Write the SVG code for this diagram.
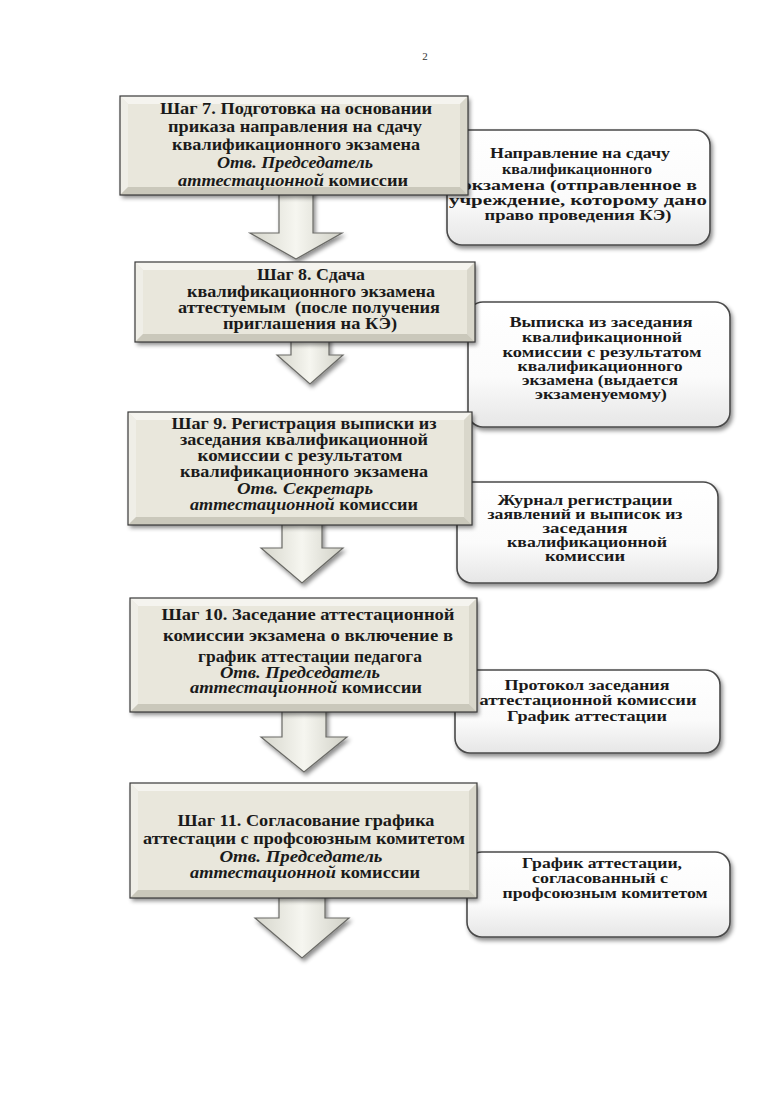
<svg xmlns="http://www.w3.org/2000/svg" width="772" height="1093" viewBox="0 0 772 1093">
<defs>
<filter id="sh" x="-10%" y="-10%" width="125%" height="130%">
<feDropShadow dx="2" dy="3" stdDeviation="2" flood-color="#000" flood-opacity="0.45"/>
</filter>
<linearGradient id="rg" x1="0" y1="0" x2="0" y2="1">
<stop offset="0" stop-color="#ffffff"/>
<stop offset="0.6" stop-color="#fbfbfb"/>
<stop offset="1" stop-color="#e6e6e6"/>
</linearGradient>
<linearGradient id="ag" x1="0" y1="0" x2="1" y2="0">
<stop offset="0" stop-color="#d6d6cc"/>
<stop offset="0.5" stop-color="#f6f6f0"/>
<stop offset="1" stop-color="#d0d0c6"/>
</linearGradient>
<style>
.t{font-family:"Liberation Serif","Times New Roman",serif;font-weight:bold;fill:#1a1a1a;text-anchor:middle}
.L{font-size:16px}
.R{font-size:14.5px}
.i{font-style:italic}
.face{fill:#e9e7dc}
.bt{fill:#f5f4ef}
.bl{fill:#efeee7}
.br{fill:#d9d7cb}
.bb{fill:#cac8bb}
.out{fill:none;stroke:#3a3a3a;stroke-width:1.2}
.rbox{fill:url(#rg);stroke:#4a4a4a;stroke-width:1.6}
.arr{fill:url(#ag);stroke:#6a6a66;stroke-width:1.2}
</style>
</defs>
<rect width="772" height="1093" fill="#ffffff"/>
<text x="425" y="60" font-family="Liberation Serif, serif" font-size="11" text-anchor="middle" fill="#333">2</text>

<g id="r1" filter="url(#sh)"><rect class="rbox" x="447" y="130" width="263" height="115" rx="15"/></g>
<g id="r2" filter="url(#sh)"><rect class="rbox" x="468" y="302" width="262" height="125" rx="15"/></g>
<g id="r3" filter="url(#sh)"><rect class="rbox" x="457" y="482" width="261" height="101" rx="15"/></g>
<g id="r4" filter="url(#sh)"><rect class="rbox" x="455" y="670" width="265" height="83" rx="15"/></g>
<g id="r5" filter="url(#sh)"><rect class="rbox" x="467" y="852" width="263" height="85" rx="15"/></g>

<g id="r1t" class="t R">
<text x="580" y="158" textLength="180" lengthAdjust="spacingAndGlyphs">Направление на сдачу</text>
<text x="577" y="174" textLength="150" lengthAdjust="spacingAndGlyphs">квалификационного</text>
<text x="580" y="190" textLength="234" lengthAdjust="spacingAndGlyphs">экзамена (отправленное в</text>
<text x="578" y="205" textLength="258" lengthAdjust="spacingAndGlyphs">учреждение, которому дано</text>
<text x="578" y="220" textLength="187" lengthAdjust="spacingAndGlyphs">право проведения КЭ)</text>
</g>
<g id="r2t" class="t R">
<text x="601" y="327" textLength="183" lengthAdjust="spacingAndGlyphs">Выписка из заседания</text>
<text x="602" y="342" textLength="160" lengthAdjust="spacingAndGlyphs">квалификационной</text>
<text x="602" y="357" textLength="199" lengthAdjust="spacingAndGlyphs">комиссии с результатом</text>
<text x="600" y="371" textLength="165" lengthAdjust="spacingAndGlyphs">квалификационного</text>
<text x="600" y="385" textLength="156" lengthAdjust="spacingAndGlyphs">экзамена (выдается</text>
<text x="601" y="399" textLength="132" lengthAdjust="spacingAndGlyphs">экзаменуемому)</text>
</g>
<g id="r3t" class="t R">
<text x="585" y="505" textLength="175" lengthAdjust="spacingAndGlyphs">Журнал регистрации</text>
<text x="585" y="519" textLength="195" lengthAdjust="spacingAndGlyphs">заявлений и выписок из</text>
<text x="585" y="533" textLength="85" lengthAdjust="spacingAndGlyphs">заседания</text>
<text x="587" y="547" textLength="160" lengthAdjust="spacingAndGlyphs">квалификационной</text>
<text x="585" y="561" textLength="80" lengthAdjust="spacingAndGlyphs">комиссии</text>
</g>
<g id="r4t" class="t R">
<text x="587" y="690" textLength="165" lengthAdjust="spacingAndGlyphs">Протокол заседания</text>
<text x="588" y="705" textLength="217" lengthAdjust="spacingAndGlyphs">аттестационной комиссии</text>
<text x="587" y="721" textLength="160" lengthAdjust="spacingAndGlyphs">График аттестации</text>
</g>
<g id="r5t" class="t R">
<text x="602" y="868" textLength="160" lengthAdjust="spacingAndGlyphs">График аттестации,</text>
<text x="600" y="883" textLength="136" lengthAdjust="spacingAndGlyphs">согласованный с</text>
<text x="605" y="898" textLength="205" lengthAdjust="spacingAndGlyphs">профсоюзным комитетом</text>
</g>

<g id="connectors">
<polygon class="arr" filter="url(#sh)" points="279,185 313,185 313,233 342,233 296,259 250,233 279,233"/>
<polygon class="arr" filter="url(#sh)" points="291,335 329,335 329,355 343,355 310,384 277,355 291,355"/>
<polygon class="arr" filter="url(#sh)" points="282,515 322,515 322,548 343,548 302,583 261,548 282,548"/>
<polygon class="arr" filter="url(#sh)" points="282,700 326,700 326,737 347,737 304,772 261,737 282,737"/>
<polygon class="arr" filter="url(#sh)" points="279,888 325,888 325,918 349,918 302,958 255,918 279,918"/>
</g>

<g id="b7">
<g filter="url(#sh)"><rect class="face" x="120" y="96" width="348" height="99"/></g>
<polygon class="bt" points="120,96 468,96 460,104 128,104"/>
<polygon class="bl" points="120,96 128,104 128,187 120,195"/>
<polygon class="br" points="468,96 468,195 460,187 460,104"/>
<polygon class="bb" points="120,195 128,187 460,187 468,195"/>
<rect class="out" x="120" y="96" width="348" height="99"/>
<g class="t L">
<text x="296" y="114" textLength="272" lengthAdjust="spacingAndGlyphs">Шаг 7. Подготовка на основании</text>
<text x="295" y="132" textLength="254" lengthAdjust="spacingAndGlyphs">приказа направления на сдачу</text>
<text x="296" y="150" textLength="248" lengthAdjust="spacingAndGlyphs">квалификационного экзамена</text>
<text x="295" y="168" class="i" textLength="156" lengthAdjust="spacingAndGlyphs">Отв. Председатель</text>
<text x="293" y="186" textLength="230" lengthAdjust="spacingAndGlyphs"><tspan class="i">аттестационной</tspan> комиссии</text>
</g>
</g>

<g id="b8">
<g filter="url(#sh)"><rect class="face" x="135" y="262" width="340" height="80"/></g>
<polygon class="bt" points="135,262 475,262 467,270 143,270"/>
<polygon class="bl" points="135,262 143,270 143,334 135,342"/>
<polygon class="br" points="475,262 475,342 467,334 467,270"/>
<polygon class="bb" points="135,342 143,334 467,334 475,342"/>
<rect class="out" x="135" y="262" width="340" height="80"/>
<g class="t L">
<text x="311" y="280" textLength="108" lengthAdjust="spacingAndGlyphs">Шаг 8. Сдача</text>
<text x="311" y="297" textLength="248" lengthAdjust="spacingAndGlyphs">квалификационного экзамена</text>
<text x="309" y="313" textLength="262" lengthAdjust="spacingAndGlyphs" xml:space="preserve">аттестуемым  (после получения</text>
<text x="310" y="329" textLength="174" lengthAdjust="spacingAndGlyphs">приглашения на КЭ)</text>
</g>
</g>

<g id="b9">
<g filter="url(#sh)"><rect class="face" x="128" y="412" width="344" height="113"/></g>
<polygon class="bt" points="128,412 472,412 464,420 136,420"/>
<polygon class="bl" points="128,412 136,420 136,517 128,525"/>
<polygon class="br" points="472,412 472,525 464,517 464,420"/>
<polygon class="bb" points="128,525 136,517 464,517 472,525"/>
<rect class="out" x="128" y="412" width="344" height="113"/>
<g class="t L">
<text x="304" y="429" textLength="265" lengthAdjust="spacingAndGlyphs">Шаг 9. Регистрация выписки из</text>
<text x="304" y="445" textLength="248" lengthAdjust="spacingAndGlyphs">заседания квалификационной</text>
<text x="300" y="461" textLength="205" lengthAdjust="spacingAndGlyphs">комиссии с результатом</text>
<text x="304" y="477" textLength="248" lengthAdjust="spacingAndGlyphs">квалификационного экзамена</text>
<text x="305" y="494" class="i" textLength="136" lengthAdjust="spacingAndGlyphs">Отв. Секретарь</text>
<text x="304" y="510" textLength="228" lengthAdjust="spacingAndGlyphs"><tspan class="i">аттестационной</tspan> комиссии</text>
</g>
</g>

<g id="b10">
<g filter="url(#sh)"><rect class="face" x="130" y="598" width="347" height="114"/></g>
<polygon class="bt" points="130,598 477,598 469,606 138,606"/>
<polygon class="bl" points="130,598 138,606 138,704 130,712"/>
<polygon class="br" points="477,598 477,712 469,704 469,606"/>
<polygon class="bb" points="130,712 138,704 469,704 477,712"/>
<rect class="out" x="130" y="598" width="347" height="114"/>
<g class="t L">
<text x="308" y="620" textLength="293" lengthAdjust="spacingAndGlyphs">Шаг 10. Заседание аттестационной</text>
<text x="308" y="641" textLength="290" lengthAdjust="spacingAndGlyphs">комиссии экзамена о включение в</text>
<text x="310" y="662" textLength="224" lengthAdjust="spacingAndGlyphs">график аттестации педагога</text>
<text x="300" y="678" class="i" textLength="160" lengthAdjust="spacingAndGlyphs">Отв. Председатель</text>
<text x="306" y="693" textLength="232" lengthAdjust="spacingAndGlyphs"><tspan class="i">аттестационной</tspan> комиссии</text>
</g>
</g>

<g id="b11">
<g filter="url(#sh)"><rect class="face" x="130" y="783" width="347" height="115"/></g>
<polygon class="bt" points="130,783 477,783 469,791 138,791"/>
<polygon class="bl" points="130,783 138,791 138,890 130,898"/>
<polygon class="br" points="477,783 477,898 469,890 469,791"/>
<polygon class="bb" points="130,898 138,890 469,890 477,898"/>
<rect class="out" x="130" y="783" width="347" height="115"/>
<g class="t L">
<text x="306" y="826" textLength="257" lengthAdjust="spacingAndGlyphs">Шаг 11. Согласование графика</text>
<text x="304" y="844" textLength="322" lengthAdjust="spacingAndGlyphs">аттестации с профсоюзным комитетом</text>
<text x="301" y="862" class="i" textLength="163" lengthAdjust="spacingAndGlyphs">Отв. Председатель</text>
<text x="305" y="878" textLength="230" lengthAdjust="spacingAndGlyphs"><tspan class="i">аттестационной</tspan> комиссии</text>
</g>
</g>
</svg>
